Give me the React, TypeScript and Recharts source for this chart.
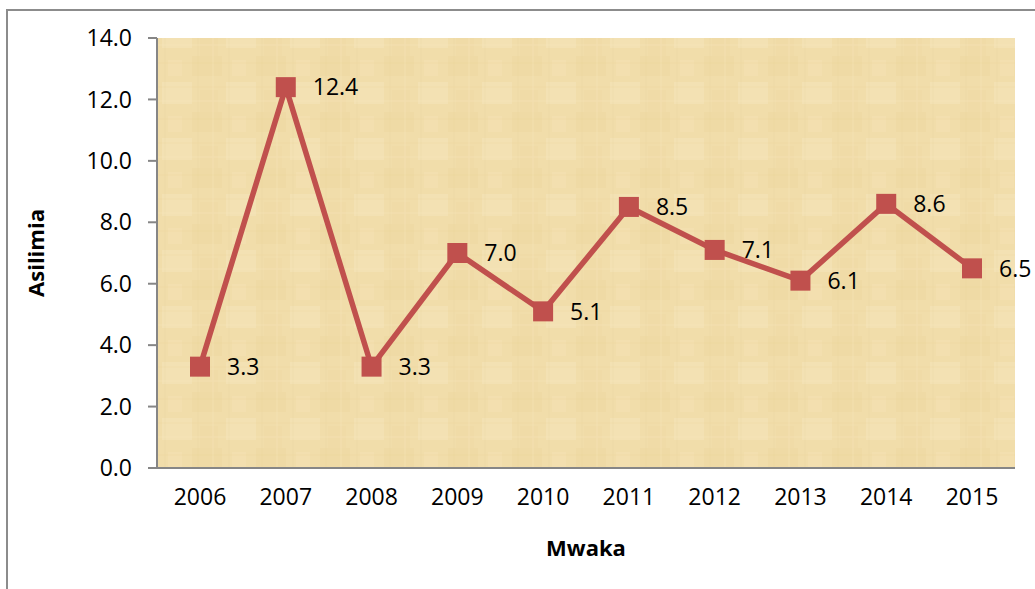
import { LineChart, Line, XAxis, YAxis, CartesianGrid, LabelList } from "recharts";

// Asilimia kwa mwaka
const years = ["2006", "2007", "2008", "2009", "2010", "2011", "2012", "2013", "2014", "2015"];
const asilimia = [3.3, 12.4, 3.3, 7.0, 5.1, 8.5, 7.1, 6.1, 8.6, 6.5];
const yTicks = [0, 2, 4, 6, 8, 10, 12, 14];

const data = years.map((y, i) => ({ year: y, value: asilimia[i] }));

const FONT = "'Open Sans', 'Noto Sans', sans-serif";
const FS = 23;
const LINE = "#C0504D";
const AXIS = "#868686";

// kisanduku cha mraba kwa kila nukta
function SquareDot(props: any) {
  const { cx, cy, index } = props;
  if (cx == null || cy == null) return <g key={`d-${index}`} />;
  return <rect key={`d-${index}`} x={cx - 10} y={cy - 10} width={20} height={20} fill={LINE} />;
}

function YTitle(props: any) {
  const vb = props.viewBox || {};
  const x = 35;
  const y = (vb.y ?? 0) + (vb.height ?? 0) / 2;
  return (
    <text x={x} y={y} transform={`rotate(-90 ${x} ${y})`} textAnchor="middle" dominantBaseline="central"
      style={{ fontFamily: FONT, fontSize: 22, fontWeight: 700, fill: "#000" }}>
      Asilimia
    </text>
  );
}

export default function App() {
  return (
    <div style={{ position: "absolute", left: 0, top: 0, width: 1035, height: 589, overflow: "hidden", background: "#fff" }}>
      <div style={{ position: "absolute", left: 6, top: 9, width: 1100, height: 700, border: "2px solid #8c8c8c" }} />
      <div style={{ position: "absolute", left: 0, top: 0 }}>
        <LineChart width={1035} height={589} data={data} margin={{ top: 38, right: 20, bottom: 0, left: 0 }}>
          <defs>
            <pattern id="papyrus" width="64" height="56" patternUnits="userSpaceOnUse">
              <rect width="64" height="56" fill="#F1DDAA" />
              <rect x="0" y="0" width="30" height="20" fill="#EAD29A" opacity="0.35" />
              <rect x="34" y="26" width="30" height="22" fill="#F6E5BC" opacity="0.5" />
              <rect x="8" y="34" width="18" height="22" fill="#ECD5A0" opacity="0.35" />
              <rect x="40" y="4" width="14" height="16" fill="#F5E2B4" opacity="0.5" />
              <path d="M0 7H64M0 31H64" stroke="#E4CA90" strokeWidth="1" opacity="0.25" />
              <path d="M6 0V56M37 0V56" stroke="#E6CD93" strokeWidth="1" opacity="0.2" />
              <path d="M0 45H64M21 0V56" stroke="#F8E8C2" strokeWidth="1" opacity="0.35" />
            </pattern>
          </defs>
          <CartesianGrid horizontal={false} vertical={false} fill="url(#papyrus)" fillOpacity={1} />
          <XAxis
            dataKey="year"
            height={121}
            padding={{ left: 43, right: 43 }}
            tickLine={false}
            tickSize={0}
            tickMargin={21}
            interval={0}
            axisLine={{ stroke: AXIS, strokeWidth: 2 }}
            tick={{ fontFamily: FONT, fontSize: FS, fill: "#000" }}
            label={{ value: "Mwaka", position: "insideBottom", offset: 33, style: { fontFamily: FONT, fontSize: 22, fontWeight: 700, fill: "#000" } }}
          />
          <YAxis
            width={157}
            domain={[0, 14]}
            ticks={yTicks}
            interval={0}
            tickFormatter={(v: number) => v.toFixed(1)}
            tickSize={9}
            tickMargin={16}
            axisLine={{ stroke: AXIS, strokeWidth: 2 }}
            tickLine={{ stroke: AXIS, strokeWidth: 2 }}
            tick={{ fontFamily: FONT, fontSize: FS, fill: "#000" }}
            label={{ content: (p: any) => <YTitle {...p} /> }}
          />
          <Line
            type="linear"
            dataKey="value"
            stroke={LINE}
            strokeWidth={5.5}
            dot={(p: any) => <SquareDot {...p} />}
            activeDot={false}
            isAnimationActive={false}
          >
            <LabelList
              dataKey="value"
              position="right"
              offset={27}
              formatter={(v: any) => Number(v).toFixed(1)}
              style={{ fontFamily: FONT, fontSize: FS, fill: "#000" }}
            />
          </Line>
        </LineChart>
      </div>
    </div>
  );
}
